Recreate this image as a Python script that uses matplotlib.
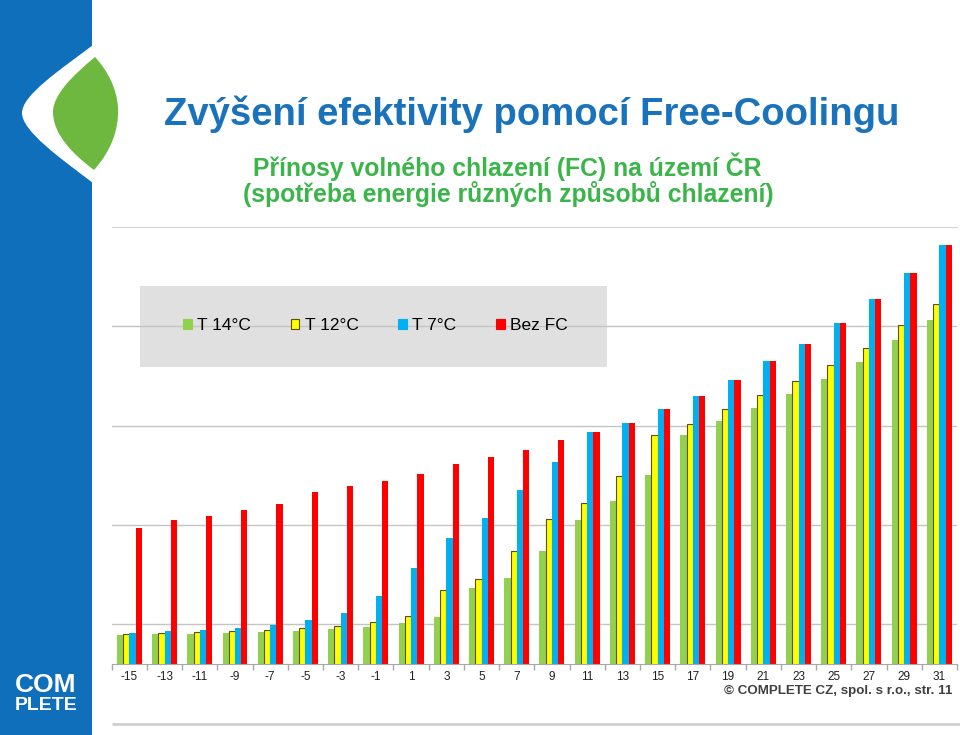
import matplotlib
matplotlib.use("Agg")
import matplotlib.pyplot as plt
from matplotlib.patches import Rectangle, PathPatch, Patch
from matplotlib.path import Path
import numpy as np

plt.rcParams['font.family'] = ['Liberation Sans', 'DejaVu Sans']

categories = ["-15", "-13", "-11", "-9", "-7", "-5", "-3", "-1", "1", "3", "5", "7",
              "9", "11", "13", "15", "17", "19", "21", "23", "25", "27", "29", "31"]
t14 = [89.6, 89.9, 90.6, 91.6, 92.2, 93.7, 95.3, 97.7, 101.3, 107.4, 136.3, 146.6,
       174.2, 204.7, 223.9, 250.0, 290.3, 304.7, 317.8, 332.3, 347.4, 363.8, 386.0, 406.8]
t12 = [90.6, 91.2, 91.9, 93.0, 94.0, 96.0, 98.0, 102.0, 108.0, 134.2, 145.6, 173.5,
       205.7, 221.8, 249.7, 290.3, 302.1, 316.5, 330.6, 344.7, 361.1, 378.6, 401.1, 422.2]
t7 = [91.2, 93.0, 94.3, 96.3, 99.3, 104.0, 111.4, 128.5, 157.1, 186.9, 207.5, 235.6,
      263.4, 293.3, 303.1, 317.2, 329.6, 345.7, 364.8, 382.0, 403.1, 427.3, 453.5, 481.7]
bez_fc = [197.4, 204.7, 209.5, 215.5, 221.5, 233.6, 239.0, 244.0, 251.8, 261.4, 268.2, 275.2,
          286.0, 293.3, 303.1, 317.2, 329.6, 345.7, 364.8, 382.0, 403.1, 427.3, 453.5, 481.7]
series_names = ["T 14°C", "T 12°C", "T 7°C", "Bez FC"]
grid_values = [100, 200, 300, 400]

colors = ["#92D050", "#FFFF00", "#00B0F0", "#FF0000"]
edges = ["none", "#5E5000", "none", "none"]

W, H = 960, 735
fig = plt.figure(figsize=(W / 100, H / 100), dpi=100)

# background decoration in pixel coordinates
bg = fig.add_axes([0, 0, 1, 1], zorder=0)
bg.set_xlim(0, W)
bg.set_ylim(H, 0)
bg.axis('off')
blue = "#0F6FBA"
bg.add_patch(Rectangle((0, 0), 92, H, color=blue, lw=0))
cut = Path([(93, 45), (60, 70), (22, 95), (22, 113), (22, 131), (60, 158), (93, 183), (93, 45)],
           [Path.MOVETO, Path.CURVE4, Path.CURVE4, Path.CURVE4, Path.CURVE4, Path.CURVE4, Path.CURVE4,
            Path.CLOSEPOLY])
bg.add_patch(PathPatch(cut, facecolor="white", edgecolor="none"))
leaf = Path([(95, 57), (72, 76), (53, 95), (53, 112), (53, 135), (74, 155), (94, 170),
             (112, 150), (119, 128), (118, 108), (117, 88), (107, 70), (95, 57)],
            [Path.MOVETO, Path.CURVE4, Path.CURVE4, Path.CURVE4, Path.CURVE4, Path.CURVE4, Path.CURVE4,
             Path.CURVE4, Path.CURVE4, Path.CURVE4, Path.CURVE4, Path.CURVE4, Path.CURVE4])
bg.add_patch(PathPatch(leaf, facecolor="#6FB83F", edgecolor="none"))
bg.plot([112, 960], [724, 724], color="#CFCFCF", lw=2, solid_capstyle='butt')
bg.text(46, 685, "COM", color="white", fontsize=19, fontweight='bold', ha='center', va='center')
bg.text(46, 705, "PLETE", color="white", fontsize=14, fontweight='bold', ha='center', va='center')

# titles
bg.text(532, 125, "Zvýšení efektivity pomocí Free-Coolingu", color="#1A72BB", fontsize=27.5,
        fontweight='bold', ha='center', va='baseline')
bg.text(507, 176, "Přínosy volného chlazení (FC) na území ČR", color="#3BB54A", fontsize=17.8,
        fontweight='bold', ha='center', va='baseline')
bg.text(508, 202, "(spotřeba energie různých způsobů chlazení)", color="#3BB54A", fontsize=17.8,
        fontweight='bold', ha='center', va='baseline')
bg.text(952, 694, "© COMPLETE CZ, spol. s r.o., str. 11", color="#404040", fontsize=9.6,
        fontweight='bold', ha='right', va='baseline')

# legend box
bg.add_patch(Rectangle((140, 286), 467, 81, facecolor="#E0E0E0", edgecolor="none", zorder=5))

# main chart
left, right, top, bottom = 111.7, 957, 227, 664
ax = fig.add_axes([left / W, 1 - bottom / H, (right - left) / W, (bottom - top) / H], zorder=1)
ax.patch.set_alpha(0)
x = np.arange(len(categories))
w = 0.177
data = [t14, t12, t7, bez_fc]
for i, (vals, c, e) in enumerate(zip(data, colors, edges)):
    ax.bar(x + (i - 1.5) * w, vals, width=w, color=c, edgecolor=e,
           linewidth=0.8 if e != "none" else 0, zorder=2)

ax.set_xlim(-0.5, len(categories) - 0.5)
ax.set_ylim(60, 500)
ax.set_yticks(grid_values)
ax.yaxis.grid(True, color="#C4C4C4", lw=1)
ax.set_axisbelow(True)
ax.tick_params(axis='y', left=False, labelleft=False)
ax.set_xticks(x)
ax.set_xticklabels(categories, fontsize=8.5, color="#202020")
ax.tick_params(axis='x', length=0, pad=5)
ax.set_xticks(np.arange(-0.5, len(categories)), minor=True)
ax.tick_params(axis='x', which='minor', length=4, color="#A8A8A8", width=1)
for s in ['right', 'left']:
    ax.spines[s].set_visible(False)
ax.spines['top'].set_color("#D4D4D4")
ax.spines['bottom'].set_color("#A8A8A8")

handles = [Patch(facecolor=c, edgecolor=(e if e != "none" else c), linewidth=0.8)
           for c, e in zip(colors, edges)]
leg = fig.legend(handles, series_names, loc='center', bbox_to_anchor=(375.5 / W, 1 - 326 / H),
                 ncol=4, frameon=False, fontsize=12.5, handlelength=0.5, handleheight=0.5,
                 handletextpad=0.3, columnspacing=2.29)
leg.set_zorder(6)

fig.savefig("out.png", dpi=100)
